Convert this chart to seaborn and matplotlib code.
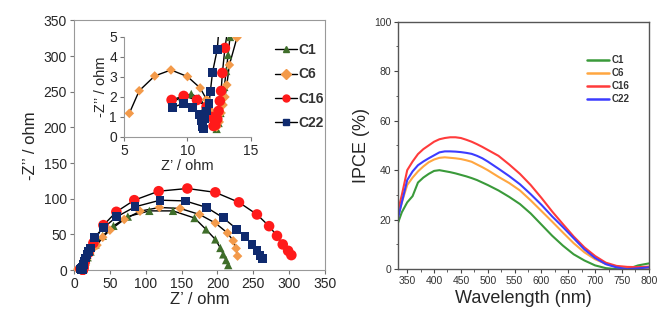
import matplotlib
matplotlib.use("Agg")
import matplotlib.pyplot as plt
from matplotlib.lines import Line2D
import seaborn as sns
import pandas as pd

sns.set_style("white")
plt.rcParams["font.family"] = ["Liberation Sans", "DejaVu Sans"]

# Nyquist data (Z' , -Z'') in ohm
c1_re = [8.8, 9.6, 10.3, 10.9, 11.4, 11.8, 12.1, 12.3, 12.45, 12.6, 12.75, 12.9, 13.05, 13.2, 13.35,
         14, 16, 19, 23, 30, 40, 55, 75, 105, 138, 168, 184, 197, 204, 208, 212, 215]
c1_im = [1.75, 2.0, 2.15, 1.95, 1.55, 1.0, 0.6, 0.4, 0.7, 1.2, 1.8, 2.5, 3.3, 4.1, 5.0,
         7, 12, 18, 26, 36, 48, 62, 75, 83, 83, 73, 57, 43, 31, 22, 14, 7]

c6_re = [5.42, 6.2, 7.42, 8.7, 10.0, 11.0, 11.5, 11.85, 12.1, 12.3, 12.5, 12.65, 12.8, 12.95, 13.1, 13.3, 13.9,
         16, 18, 22, 26, 32, 40, 50, 70, 92, 119, 148, 175, 197, 214, 222, 226, 228]
c6_im = [1.18, 2.31, 3.05, 3.35, 3.02, 2.45, 1.88, 1.3, 0.8, 0.5, 0.75, 1.2, 1.6, 2.0, 2.6, 3.6, 4.97,
         9, 16, 24, 30, 35, 46, 56, 71, 82.6, 87.8, 86.4, 78, 66, 52, 41, 30.4, 19.6]

c16_re = [8.75, 9.7, 10.75, 11.5, 11.9, 12.05, 12.2, 12.35, 12.45, 12.55, 12.65, 12.75, 12.95, 13.2,
          15, 20, 27, 41, 59, 84, 118, 158, 197, 230, 255, 272, 283, 291, 298.5, 303]
c16_im = [1.85, 2.05, 1.85, 1.5, 1.0, 0.55, 0.6, 0.9, 1.3, 1.8, 2.3, 3.2, 4.45, 5.5,
          12, 24, 38, 63, 81.7, 98, 110.6, 114.4, 109, 95, 78, 61.6, 48, 36, 27, 21]

c22_re = [8.8, 9.67, 10.4, 10.93, 11.1, 11.2, 11.25, 11.35, 11.5, 11.7, 11.8, 11.97, 12.35, 12.5,
          13, 14, 16, 18, 20, 23, 28.3, 40.9, 59.5, 85, 120, 155, 185, 208, 227, 238.5, 248, 255, 259.4, 263]
c22_im = [1.46, 1.68, 1.48, 1.14, 0.8, 0.5, 0.4, 0.9, 1.3, 1.68, 2.26, 3.22, 4.39, 5.6,
          8, 12, 17, 22, 26, 31, 45.8, 59.3, 74.7, 88.7, 98, 97, 87.8, 73.3, 57.4, 46.7, 36.4, 28, 20.6, 16.4]

# IPCE data
wavelength = [330, 340, 350, 360, 370, 380, 390, 400, 410, 420, 430, 440, 450, 460, 470, 480, 490, 500,
              520, 540, 560, 580, 600, 620, 640, 660, 680, 700, 720, 740, 760, 780, 800]
ipce_c1 = [17, 23, 27, 29.5, 35, 37, 38.5, 39.7, 40, 39.6, 39.2, 38.7, 38.1, 37.5, 36.8, 36, 35, 34,
           31.8, 29.2, 26.3, 22.5, 18, 13.5, 9.5, 6, 3.5, 1.5, 0.4, 0, 0, 1.5, 2.3]
ipce_c6 = [19, 27, 34, 37, 39.5, 41.5, 43.2, 44.3, 45, 45.2, 45, 44.8, 44.5, 44, 43.4, 42.3, 41.2, 40,
           37.3, 34.8, 31.8, 27.8, 23.5, 19.2, 14.8, 10.5, 6.8, 4, 2.1, 1, 0.4, 0.5, 0.5]
ipce_c16 = [21, 30, 40, 43.5, 46.5, 48.5, 50, 51.5, 52.5, 53, 53.3, 53.3, 53, 52.3, 51.5, 50.5, 49.4, 48.2,
            45.8, 42.3, 38.5, 34, 28.8, 23.3, 18.2, 13.2, 8.8, 5.3, 2.6, 1.3, 0.9, 0.8, 1]
ipce_c22 = [18, 27, 36, 39.5, 42, 43.5, 44.8, 46, 47.2, 47.6, 47.6, 47.5, 47.3, 47, 46.6, 45.8, 44.8, 43.5,
            40.6, 37.6, 34.3, 30.3, 26, 21.3, 17, 12.5, 8, 4.5, 2, 0.7, 0, 0.3, 0.7]

names = ["C1", "C6", "C16", "C22"]
eis_colors = {"C1": "#3f6e2a", "C6": "#f39a4a", "C16": "#ff1a1a", "C22": "#0f2a6e"}
eis_markers = {"C1": "^", "C6": "D", "C16": "o", "C22": "s"}
eis_sizes = {"C1": 36, "C6": 24, "C16": 58, "C22": 40}
ipce_colors = {"C1": "#3a9a3a", "C6": "#ffa640", "C16": "#ff3b3b", "C22": "#3c3cff"}

rows = []
for n, xs, ys in zip(names, [c1_re, c6_re, c16_re, c22_re], [c1_im, c6_im, c16_im, c22_im]):
    for i, (a, b) in enumerate(zip(xs, ys)):
        rows.append({"series": n, "idx": i, "zre": a, "zim": b})
eis = pd.DataFrame(rows)

rows = []
for n, ys in zip(names, [ipce_c1, ipce_c6, ipce_c16, ipce_c22]):
    for w, v in zip(wavelength, ys):
        rows.append({"series": n, "wl": w, "ipce": v})
ipce = pd.DataFrame(rows)

fig = plt.figure(figsize=(6.58, 3.2), dpi=100)
ax = fig.add_axes([0.1125, 0.156, 0.3815, 0.78])
axin = fig.add_axes([0.1884, 0.572, 0.193, 0.3125])
ax2 = fig.add_axes([0.605, 0.159, 0.381, 0.773])

def draw_eis(a, clip):
    sns.lineplot(data=eis, x="zre", y="zim", units="series", estimator=None, sort=False,
                 color="black", lw=1, ax=a, legend=False)
    for n in names:
        d = eis[eis.series == n]
        sns.scatterplot(data=d, x="zre", y="zim", color=eis_colors[n], marker=eis_markers[n],
                        s=eis_sizes[n], edgecolor="none", ax=a, legend=False, zorder=3, clip_on=clip)

draw_eis(ax, False)
ax.set_xlim(0, 350)
ax.set_ylim(0, 350)
ax.set_xticks(range(0, 351, 50))
ax.set_yticks(range(0, 351, 50))
ax.tick_params(labelsize=10, length=3, direction="out", color="#777777", bottom=True, left=True, pad=2)
for s in ax.spines.values():
    s.set_color("#999999")
    s.set_linewidth(0.8)
ax.set_xlabel("Z’ / ohm", fontsize=12, labelpad=1)
ax.set_ylabel("-Z’’ / ohm", fontsize=12, labelpad=4)

handles = [Line2D([0], [0], color="black", lw=1, marker=eis_markers[n], markersize=5,
                  markerfacecolor=eis_colors[n], markeredgecolor=eis_colors[n]) for n in names]
leg = ax.legend(handles, names, loc="upper left", bbox_to_anchor=(0.75, 0.96), frameon=False,
                fontsize=10, handlelength=1.6, handletextpad=0.1, labelspacing=0.75)
for t in leg.get_texts():
    t.set_color("#333333")
    t.set_fontweight("bold")

draw_eis(axin, True)
axin.set_xlim(5, 15)
axin.set_ylim(0, 5)
axin.set_xticks([5, 10, 15])
axin.set_yticks([0, 1, 2, 3, 4, 5])
axin.tick_params(labelsize=10, length=3, direction="out", color="#777777", bottom=True, left=True, pad=2)
for k in ["top", "right"]:
    axin.spines[k].set_visible(False)
for k in ["left", "bottom"]:
    axin.spines[k].set_color("#999999")
    axin.spines[k].set_linewidth(0.8)
axin.set_xlabel("Z’ / ohm", fontsize=10.5, labelpad=1)
axin.set_ylabel("-Z’’ / ohm", fontsize=10.5, labelpad=1)

# IPCE panel
sns.lineplot(data=ipce, x="wl", y="ipce", hue="series", palette=ipce_colors, lw=1.5, ax=ax2)
ax2.set_xlim(333, 800)
ax2.set_ylim(0, 100)
ax2.set_xticks(range(350, 801, 50))
ax2.set_xticks(range(350, 801, 25), minor=True)
ax2.set_yticks(range(0, 101, 20))
ax2.set_yticks(range(0, 101, 10), minor=True)
ax2.tick_params(which="major", labelsize=7.5, length=3, direction="out", bottom=True, left=True,
                color="#444444", labelcolor="#333333", pad=2)
ax2.tick_params(which="minor", length=1.8, direction="out", bottom=True, left=True, color="#444444")
for lab in ax2.get_xticklabels() + ax2.get_yticklabels():
    lab.set_family(["Liberation Sans Narrow", "Liberation Sans"])
for s in ax2.spines.values():
    s.set_color("#555555")
    s.set_linewidth(1.0)
ax2.set_xlabel("Wavelength (nm)", fontsize=13, labelpad=3)
ax2.set_ylabel("IPCE (%)", fontsize=13, labelpad=3)
leg2 = ax2.legend(loc="upper left", bbox_to_anchor=(0.72, 0.9), frameon=False, fontsize=7,
                  handlelength=2.2, handletextpad=0.3, labelspacing=0.3)
for t in leg2.get_texts():
    t.set_fontweight("bold")
    t.set_color("#333333")
for l in leg2.get_lines():
    l.set_linewidth(1.8)

fig.savefig("out.png", dpi=100)
